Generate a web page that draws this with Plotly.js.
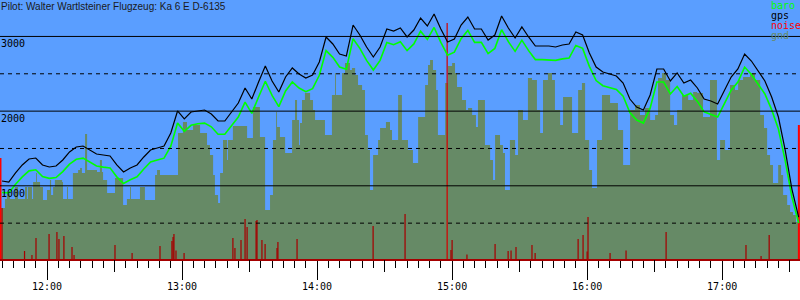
<!DOCTYPE html>
<html><head><meta charset="utf-8">
<script src="https://cdn.plot.ly/plotly-3.0.1.min.js"></script>
<style>html,body{margin:0;padding:0;background:#fff}#chart{width:800px;height:300px}</style>
</head><body><div id="chart"></div>
<script>
// time axis values are minutes after 11:00
const titleText = 'Pilot: Walter Wartlsteiner Flugzeug: Ka 6 E D-6135';

const gpsT = [40,43,46,49,52,55,58,61,64,67,70,73,76,79,82,85,88,91,94,97,100,103,106,109,112,115,118,121,124,127,130,133,136,139,142,145,148,151,154,157,160,163,166,169,172,175,178,181,184,187,190,193,196,199,202,205,208,211,214,217,220,223,226,229,232,235,238,241,244,247,250,253,256,259,262,265,268,271,274,277,280,283,286,289,292,295,298,301,304,307,310,313,316,319,322,325,328,331,334,337,340,343,346,349,352,355,358,361,364,367,370,373,376,379,382,385,388,391,394];

const gpsAlt = [1064,1051,1172,1279,1359,1372,1279,1252,1265,1346,
1453,1520,1533,1480,1426,1413,1399,1279,1185,1239,
1279,1386,1480,1506,1533,1707,2002,1895,1988,2002,
2015,1962,1868,1868,1988,2109,2310,2162,2390,2604,
2404,2256,2457,2578,2497,2444,2484,2658,2993,2899,
2765,2738,3153,3019,2859,2725,2859,3100,3073,3113,
2993,3086,3247,3140,3301,3100,2926,2966,3153,3260,
3100,3100,2952,3019,3274,3113,2979,3127,2993,2872,
2872,2872,2859,2885,2899,3060,3019,2778,2591,2524,
2497,2470,2377,2162,2055,2015,2216,2564,2564,2404,
2511,2377,2417,2310,2162,2136,2096,2283,2457,2564,
2765,2671,2537,2404,2189,1921,1480,957,582];

const baroAlt = [910,905,1020,1120,1200,1215,1125,1100,1110,1190,
1290,1355,1370,1320,1265,1250,1240,1120,1030,1080,
1120,1225,1320,1345,1370,1530,1840,1730,1810,1830,
1840,1790,1690,1690,1800,1920,2120,1970,2190,2400,
2210,2060,2270,2390,2310,2260,2300,2480,2810,2720,
2590,2560,2970,2840,2680,2550,2680,2920,2890,2930,
2810,2900,3070,2960,3120,2920,2750,2790,2970,3080,
2920,2920,2770,2840,3090,2930,2800,2950,2810,2690,
2690,2690,2680,2700,2710,2880,2840,2600,2410,2340,
2320,2290,2200,1980,1880,1840,2040,2390,2390,2230,
2330,2200,2240,2130,1990,1960,1920,2100,2280,2390,
2590,2490,2360,2230,2020,1760,1340,850,500];

const gndT = [39.1,41.3,42.2,43.5,45.8,47.1,50.2,51.1,51.5,53.3,53.8,55.1,55.5,56.9,58.2,60.0,61.3,61.8,62.7,63.5,66.7,67.1,68.9,69.3,71.5,73.8,74.7,75.5,76.9,77.8,82.2,83.5,84.4,84.9,86.7,90.2,93.8,95.5,96.9,97.3,101.3,103.5,108.0,108.9,110.2,118.2,120.4,122.2,124.9,128.0,131.1,132.4,133.8,134.6,136.0,136.9,138.2,140.0,140.4,142.6,148.9,151.5,154.6,156.9,159.1,160.4,161.8,162.2,163.5,165.8,168.9,170.2,171.1,172.0,172.4,173.3,174.6,176.9,178.2,179.1,183.5,186.6,188.0,188.4,191.1,192.4,194.6,195.5,196.9,198.2,200.0,201.3,202.6,203.5,204.9,207.1,208.0,210.6,212.4,213.3,216.0,217.7,220.4,222.6,224.9,228.0,229.3,230.2,231.5,232.9,233.7,236.9,238.2,240.0,241.3,242.2,244.4,246.2,247.1,248.9,250.6,251.5,254.6,256.9,258.2,259.1,261.3,262.6,263.5,265.7,268.0,269.3,271.5,273.7,275.5,277.7,279.1,280.4,282.6,284.4,285.7,288.0,289.3,293.3,296.0,297.7,299.1,300.9,302.2,304.4,306.6,310.2,313.7,316.0,319.1,321.3,323.5,325.7,328.0,330.2,331.5,333.3,335.1,336.9,338.6,340.0,342.2,344.9,347.1,348.9,351.5,354.6,357.7,359.1,361.3,363.5,365.7,367.1,369.3,372.4,374.6,376.9,378.6,380.0,381.3,382.6,384.9,386.2,387.1,388.9,390.2,391.5,392.8,394.6];

const gndAlt = [703,823,890,823,984,823,984,823,984,823,1051,1172,1051,984,810,944,1078,877,984,1078,1051,823,984,823,1172,1212,1239,1172,1694,1212,1185,1346,1185,1078,904,1105,743,823,984,823,984,810,1145,1212,1145,1707,1855,1747,1814,1707,1547,1413,1145,877,770,1172,1613,1346,1613,1801,1640,2055,1654,676,877,1613,1988,1788,1654,1439,1881,2149,1881,1547,1841,2149,2243,2149,2015,1881,1680,2216,2511,2216,2511,2645,2551,2578,2484,2350,2283,1680,1480,944,1413,1613,1774,1855,1747,1613,2216,1613,1480,1306,1921,2350,2618,2685,2551,2283,1680,2377,2604,2645,2511,2323,2149,2015,2042,1948,1788,2149,1547,1346,1078,1680,1547,1439,944,1613,1413,2015,1881,2444,2417,2015,1707,2417,2511,2417,2015,1814,2189,1707,2283,2377,1613,1212,971,1613,2216,2109,1747,1279,2015,2082,1948,2042,1881,1948,2444,2511,2417,1948,1814,2015,2216,2149,2256,2243,1921,2417,1346,1613,1480,2350,2283,2417,2457,2511,2417,1948,1774,1413,1279,1038,1279,1145,877,743,649,609,516,516];

const noiseT = [40.0,50.0,53.3,55.1,60.9,64.4,65.3,67.5,71.1,72.0,90.2,97.8,110.2,115.5,116.0,116.4,117.3,120.9,142.6,143.5,146.2,148.0,148.9,152.9,153.3,155.5,156.9,162.2,162.6,171.1,204.9,219.1,237.8,239.5,240.0,246.6,259.1,264.9,266.2,268.4,275.5,276.9,296.0,298.2,300.0,300.4,310.2,317.3,335.1,370.6,377.3,380.9];
const noiseAlt = [703,127,74,301,355,382,288,328,181,74,207,100,194,261,315,355,134,100,301,167,274,555,448,529,542,274,221,167,248,288,462,623,3180,141,274,80,221,127,134,181,207,100,288,342,120,583,100,134,382,207,60,342];

const edgeT = [39.3,394.1];
const edgeAlt = [1372,1814];

const hourTicks = [60,120,180,240,300,360];
const hourLabels = ['12:00','13:00','14:00','15:00','16:00','17:00'];
const halfHourTicks = [90,150,210,270,330,390];
const gridLevels = [500,1000,1500,2000,2500,3000];
const yLabelVals = [1000,2000,3000];
const yLabels = ['1000','2000','3000'];
const legendNames = ['baro','gps','noise','gnd'];

const C = {bg:'#5a9eff', gnd:'#668a66', baro:'#00ff00', gps:'#000000', noise:'#a50000', spike:'#d40000', edge:'#ff0000'};
const legendColors = [C.baro, C.gps, C.edge, C.gnd];
const mono = 'DejaVu Sans Mono, monospace';

const traces = [
  // ground profile on the base subplot
  {x:gndT, y:gndAlt, type:'scatter', mode:'lines', line:{shape:'hv', width:0, color:C.gnd}, fill:'tozeroy', fillcolor:C.gnd, hoverinfo:'skip'},
  // everything else on the overlaid subplot, drawn above the ground
  {x:noiseT, y:noiseAlt, type:'bar', width:0.55, marker:{color:noiseAlt.map(v => v > 2000 ? C.spike : C.noise), line:{width:0}}, xaxis:'x2', yaxis:'y2'},
  {x:edgeT, y:edgeAlt, type:'bar', width:0.9, marker:{color:C.edge, line:{width:0}}, xaxis:'x2', yaxis:'y2'},
  {x:gpsT, y:baroAlt, type:'scatter', mode:'lines', line:{color:C.baro, width:1.6}, xaxis:'x2', yaxis:'y2'},
  {x:gpsT, y:gpsAlt, type:'scatter', mode:'lines', line:{color:C.gps, width:1.2}, xaxis:'x2', yaxis:'y2'}
];

const shapes = gridLevels.map(v => ({type:'line', xref:'paper', x0:0, x1:1, yref:'y', y0:v, y1:v, layer:'above',
  line:{color:'#000', width:1, dash: v % 1000 === 0 ? 'solid' : '4px,4px'}}));

const annotations = [
  {xref:'paper', yref:'paper', x:0, y:1, xanchor:'left', yanchor:'top', text:titleText, showarrow:false,
   font:{family:'Liberation Sans, Arial, sans-serif', size:10, color:'#1a1a1a'}, borderpad:0}
];
yLabelVals.forEach((v,i) => annotations.push({xref:'paper', yref:'y', x:0, y:v, xanchor:'left', yanchor:'top', yshift:-1,
  text:yLabels[i], showarrow:false, borderpad:0, font:{family:mono, size:10, color:'#000'}}));
legendNames.forEach((n,i) => annotations.push({xref:'paper', yref:'paper', x:770/800, y:1 - (i*10)/259, xanchor:'left', yanchor:'top', yshift:1,
  text:n, showarrow:false, borderpad:0, font:{family:mono, size:10, color:legendColors[i]}}));

const layout = {
  width:800, height:300,
  margin:{l:0, r:0, t:0, b:41, pad:0},
  paper_bgcolor:'#ffffff', plot_bgcolor:C.bg,
  showlegend:false, barmode:'overlay',
  xaxis:{range:[39.1,394.6], tickmode:'array', tickvals:hourTicks, ticktext:hourLabels,
    ticks:'outside', ticklen:19, tickwidth:1, tickcolor:'#000', ticklabelstandoff:-2,
    showgrid:false, zeroline:false, showline:true, linecolor:C.noise, linewidth:2,
    tickfont:{family:mono, size:10, color:'#000'},
    minor:{tickmode:'linear', tick0:0, dtick:5, ticks:'outside', ticklen:7, tickwidth:1, tickcolor:'#000', showgrid:false}},
  xaxis2:{overlaying:'x', matches:'x', anchor:'y2', side:'bottom', tickmode:'array', tickvals:halfHourTicks,
    ticks:'outside', ticklen:12, tickwidth:1, tickcolor:'#000', showticklabels:false, showgrid:false, zeroline:false, showline:false},
  yaxis:{range:[20,3488], showgrid:false, zeroline:false, showticklabels:false, ticks:'', showline:false},
  yaxis2:{overlaying:'y', matches:'y', anchor:'x2', showgrid:false, zeroline:false, showticklabels:false, ticks:'', showline:false},
  shapes:shapes, annotations:annotations
};

Plotly.newPlot('chart', traces, layout, {staticPlot:true, displayModeBar:false});
</script></body></html>
